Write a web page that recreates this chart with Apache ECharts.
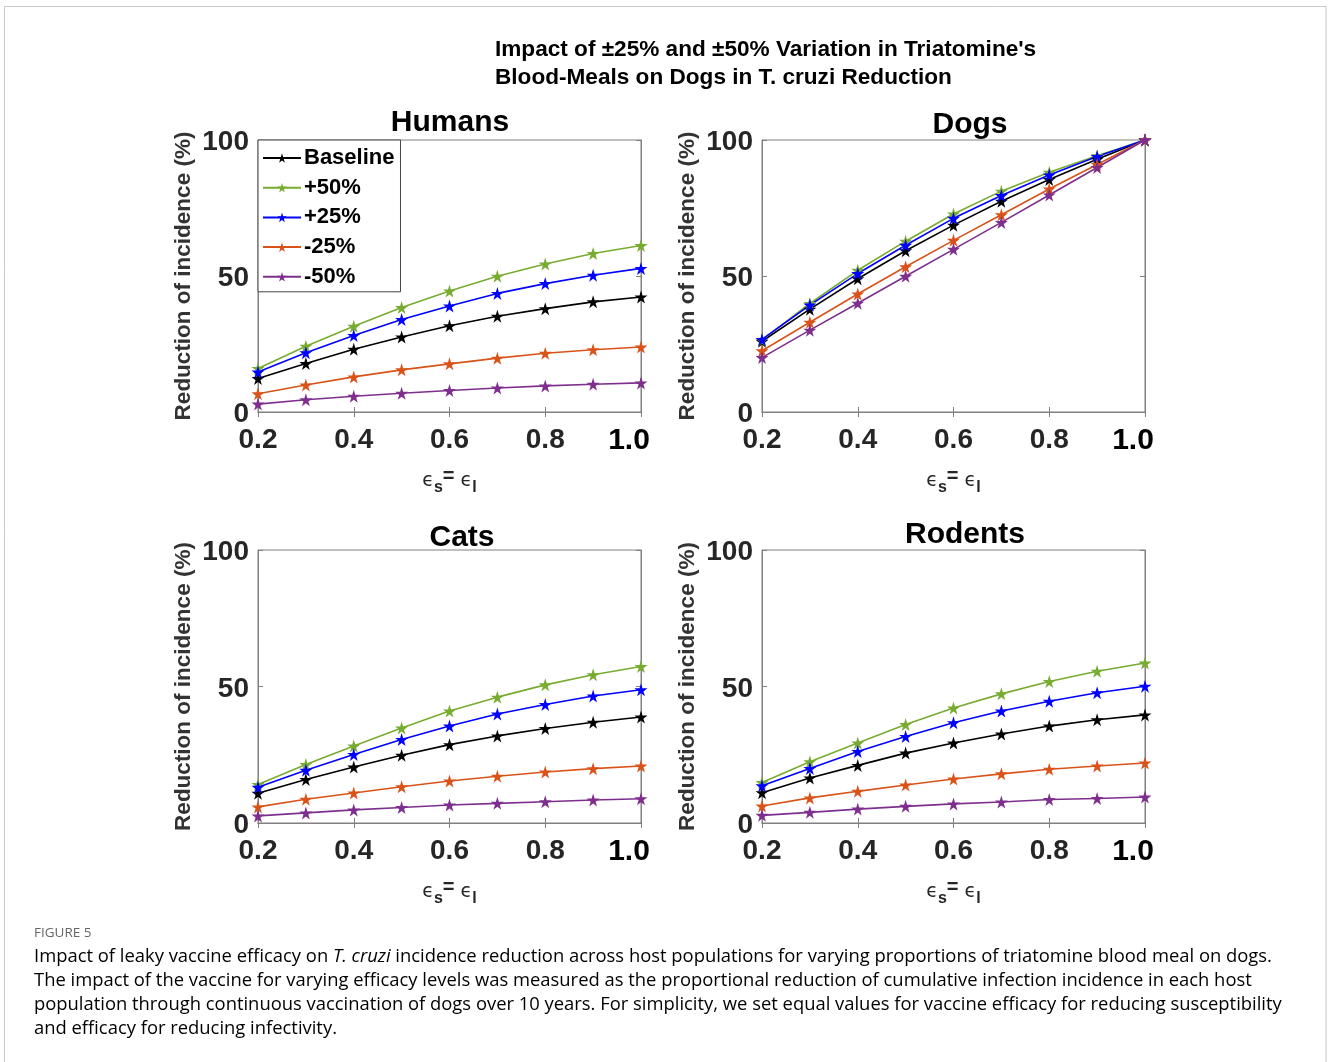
<!DOCTYPE html>
<html><head><meta charset="utf-8">
<script src="https://cdn.jsdelivr.net/npm/echarts@6/dist/echarts.min.js"></script>
<style>html,body{margin:0;padding:0;background:#fff}#c{width:1328px;height:1062px}</style>
</head><body><div id="c"></div><script>
// ---------- data ----------
const xValues = [0.2, 0.3, 0.4, 0.5, 0.6, 0.7, 0.8, 0.9, 1.0];
const seriesNames = ['Baseline', '+50%', '+25%', '-25%', '-50%'];
const panelTitles = ['Humans', 'Dogs', 'Cats', 'Rodents'];
const xTickLabels = ['0.2', '0.4', '0.6', '0.8', '1.0'];
const yTickLabels = ['0', '50', '100'];

const humansBaseline = [12.3, 17.8, 23.1, 27.6, 31.7, 35.2, 38.0, 40.5, 42.3];
const humansPlus50   = [16.0, 24.2, 31.5, 38.4, 44.5, 49.9, 54.4, 58.3, 61.2];
const humansPlus25   = [14.7, 21.8, 28.1, 34.0, 39.0, 43.6, 47.2, 50.3, 52.8];
const humansMinus25  = [6.7, 9.9, 12.9, 15.5, 17.7, 19.8, 21.6, 22.9, 23.9];
const humansMinus50  = [2.9, 4.5, 5.8, 6.9, 7.9, 8.8, 9.6, 10.2, 10.7];

const dogsBaseline = [26.0, 37.8, 49.0, 59.3, 68.7, 77.5, 85.5, 92.9, 100];
const dogsPlus50   = [26.5, 39.9, 52.1, 62.8, 72.8, 81.2, 88.1, 94.2, 100];
const dogsPlus25   = [26.7, 39.3, 50.9, 61.3, 71.2, 79.6, 87.1, 93.9, 100];
const dogsMinus25  = [22.5, 33.0, 43.4, 53.4, 63.1, 72.5, 82.0, 91.0, 100];
const dogsMinus50  = [20.0, 30.1, 40.0, 49.9, 59.8, 69.7, 79.8, 89.9, 100];

const catsBaseline = [10.9, 15.9, 20.5, 24.8, 28.7, 31.9, 34.6, 36.9, 38.8];
const catsPlus50   = [14.1, 21.4, 28.2, 34.8, 41.0, 46.1, 50.6, 54.3, 57.3];
const catsPlus25   = [13.1, 19.3, 25.1, 30.6, 35.5, 39.9, 43.4, 46.5, 48.8];
const catsMinus25  = [5.9, 8.7, 11.0, 13.3, 15.4, 17.1, 18.7, 19.9, 20.9];
const catsMinus50  = [2.6, 3.7, 4.8, 5.7, 6.6, 7.2, 7.8, 8.4, 8.9];

const rodentsBaseline = [11.1, 16.5, 21.1, 25.6, 29.3, 32.6, 35.5, 37.8, 39.6];
const rodentsPlus50   = [14.8, 22.4, 29.3, 36.1, 42.1, 47.3, 51.8, 55.6, 58.6];
const rodentsPlus25   = [13.6, 20.0, 26.2, 31.7, 36.7, 41.0, 44.6, 47.7, 50.1];
const rodentsMinus25  = [6.2, 9.2, 11.6, 13.9, 16.1, 18.0, 19.7, 20.9, 22.0];
const rodentsMinus50  = [2.8, 3.9, 5.1, 6.1, 7.0, 7.7, 8.6, 9.0, 9.5];

// ---------- styling / layout ----------
const panelData = [
  [humansBaseline, humansPlus50, humansPlus25, humansMinus25, humansMinus50],
  [dogsBaseline, dogsPlus50, dogsPlus25, dogsMinus25, dogsMinus50],
  [catsBaseline, catsPlus50, catsPlus25, catsMinus25, catsMinus50],
  [rodentsBaseline, rodentsPlus50, rodentsPlus25, rodentsMinus25, rodentsMinus50]
];
const colors = ['#000000', '#77ac30', '#0000ff', '#d95319', '#7e2f8e'];
const grids = [
  {left: 258, top: 140, width: 383, height: 272},
  {left: 762, top: 140, width: 383, height: 272},
  {left: 258, top: 550, width: 383, height: 273},
  {left: 762, top: 550, width: 383, height: 273}
];
const titlePos = [[450, 108], [970, 110], [462, 523], [965, 520]];
const star = 'path://M50,0 L61,35 L98,35 L68,57 L79,91 L50,70 L21,91 L32,57 L2,35 L39,35 Z';
const FONT = 'Liberation Sans, Arial, sans-serif';

const xAxes = [], yAxes = [], series = [];
grids.forEach((g, i) => {
  xAxes.push({
    gridIndex: i, type: 'value', min: 0.2, max: 1.0, interval: 0.2, position: 'bottom',
    axisLine: {show: true, lineStyle: {color: '#808080', width: 1}},
    axisTick: {show: true, inside: true, length: 5, lineStyle: {color: '#808080'}},
    splitLine: {show: false},
    axisLabel: {
      margin: 14,
      formatter: v => { const s = xTickLabels.find(t => Math.abs(parseFloat(t) - v) < 1e-6) || v.toFixed(1);
        return s === '1.0' ? '{b|' + s + '}' : '{a|' + s + '}'; },
      rich: {
        a: {fontSize: 28, fontWeight: 'bold', color: '#262626', fontFamily: FONT},
        b: {fontSize: 30, fontWeight: 'bold', color: '#000', fontFamily: FONT, padding: [0, 24, 0, 0]}
      }
    },
    name: '{e|ϵ}{s|s}{q|=}{e| ϵ}{s|l}',
    nameLocation: 'middle', nameGap: 54,
    nameTextStyle: {
      rich: {
        e: {fontSize: 19, color: '#262626', fontFamily: 'DejaVu Sans', lineHeight: 30, verticalAlign: 'middle'},
        s: {fontSize: 16, fontWeight: 'bold', color: '#262626', fontFamily: FONT, lineHeight: 16, verticalAlign: 'bottom'},
        q: {fontSize: 20, fontWeight: 'bold', color: '#262626', fontFamily: FONT, lineHeight: 20, verticalAlign: 'top'}
      }
    }
  });
  xAxes.push({
    gridIndex: i, type: 'value', min: 0.2, max: 1.0, interval: 0.2, position: 'top',
    axisLine: {show: true, lineStyle: {color: '#808080'}},
    axisTick: {show: true, inside: true, length: 5, lineStyle: {color: '#808080'}},
    axisLabel: {show: false}, splitLine: {show: false}
  });
  yAxes.push({
    gridIndex: i, type: 'value', min: 0, max: 100, interval: 50, position: 'left',
    axisLine: {show: true, lineStyle: {color: '#808080'}},
    axisTick: {show: true, inside: true, length: 5, lineStyle: {color: '#808080'}},
    splitLine: {show: false},
    axisLabel: {
      margin: 9,
      formatter: v => '{y|' + (yTickLabels.find(t => parseFloat(t) === v) || String(v)) + '}',
      rich: {y: {fontSize: 28, fontWeight: 'bold', color: '#262626', fontFamily: FONT, padding: [5, 0, 0, 0]}}
    },
    name: 'Reduction of incidence (%)', nameLocation: 'middle', nameGap: 63,
    nameTextStyle: {fontSize: 22.5, fontWeight: 'bold', color: '#333', fontFamily: FONT}
  });
  yAxes.push({
    gridIndex: i, type: 'value', min: 0, max: 100, interval: 50, position: 'right',
    axisLine: {show: true, lineStyle: {color: '#808080'}},
    axisTick: {show: true, inside: true, length: 5, lineStyle: {color: '#808080'}},
    axisLabel: {show: false}, splitLine: {show: false}
  });
  seriesNames.forEach((name, k) => {
    series.push({
      type: 'line', name: name, xAxisIndex: 2 * i, yAxisIndex: 2 * i,
      data: xValues.map((x, j) => [x, panelData[i][k][j]]),
      symbol: star, symbolSize: 13, showSymbol: true,
      lineStyle: {color: colors[k], width: 1.6},
      itemStyle: {color: colors[k]},
      animation: false, silent: true
    });
  });
});

const titles = [{
  text: "Impact of ±25% and ±50% Variation in Triatomine's\nBlood-Meals on Dogs in T. cruzi Reduction",
  left: 490, top: 31,
  textStyle: {fontSize: 22.6, fontWeight: 'bold', color: '#000', lineHeight: 28, fontFamily: FONT}
}];
panelTitles.forEach((t, i) => {
  titles.push({
    text: t, left: titlePos[i][0], top: titlePos[i][1], textAlign: 'center', padding: 0,
    textStyle: {fontSize: 30, fontWeight: 'bold', color: '#000', fontFamily: FONT}
  });
});

const captionLines = [
  '{n|Impact of leaky vaccine efficacy on }{i|T. cruzi}{n| incidence reduction across host populations for varying proportions of triatomine blood meal on dogs.}',
  '{n|The impact of the vaccine for varying efficacy levels was measured as the proportional reduction of cumulative infection incidence in each host}',
  '{n|population through continuous vaccination of dogs over 10 years. For simplicity, we set equal values for vaccine efficacy for reducing susceptibility}',
  '{n|and efficacy for reducing infectivity.}'
];
const capFont = 'Open Sans, Noto Sans, sans-serif';
const capRich = {
  n: {fontSize: 18.4, color: '#5a5a5a', fontFamily: capFont},
  i: {fontSize: 18.4, color: '#5a5a5a', fontStyle: 'italic', fontFamily: capFont}
};
const graphics = [
  {type: 'rect', z: -10, silent: true, shape: {x: 4.5, y: 6.5, width: 1321.5, height: 1100},
   style: {fill: '#fff', stroke: '#c8c8c8', lineWidth: 1}},
  {type: 'text', left: 34, top: 926, silent: true,
   style: {text: 'FIGURE 5', fontSize: 13.5, fill: '#666', fontFamily: capFont}}
];
captionLines.forEach((l, k) => {
  graphics.push({type: 'text', left: 34, top: 948 + 24 * k, silent: true,
    style: {text: l, rich: capRich}});
});

const chart = echarts.init(document.getElementById('c'), null, {renderer: 'canvas'});
chart.setOption({
  animation: false,
  backgroundColor: '#fff',
  title: titles,
  grid: grids.map(g => Object.assign({show: true, borderColor: '#808080', borderWidth: 1, backgroundColor: '#fff'}, g)),
  xAxis: xAxes,
  yAxis: yAxes,
  legend: {
    data: seriesNames, left: 258, top: 140, orient: 'vertical',
    backgroundColor: '#fff', borderColor: '#444', borderWidth: 1,
    padding: [7, 6, 4, 4], itemGap: 7.7, itemWidth: 38, itemHeight: 12,
    textStyle: {fontSize: 22, fontWeight: 'bold', color: '#000', fontFamily: FONT, lineHeight: 22, padding: [0, 0, 0, -2]},
    selectedMode: false
  },
  series: series,
  graphic: graphics
});
</script></body></html>
